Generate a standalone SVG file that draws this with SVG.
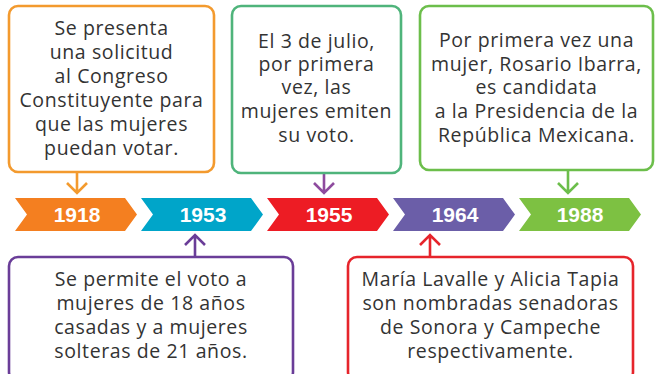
<svg xmlns="http://www.w3.org/2000/svg" width="655" height="374" viewBox="0 0 655 374">
<style>
.box{fill:#fff;stroke-width:2.6}
.t{font-family:"Open Sans","Noto Sans","Liberation Sans",sans-serif;font-size:19.5px;letter-spacing:0.6px;fill:#333;text-anchor:middle}
.yr{font-family:"Liberation Sans",Arial,sans-serif;font-weight:bold;font-size:21px;fill:#fff;text-anchor:middle}
.ar{fill:none;stroke-width:2.6;stroke-linecap:butt;stroke-linejoin:miter}
</style>
<rect width="655" height="374" fill="#fff"/>
<g id="timeline">
<polygon points="15,198 125,198 137,214.5 125,231 15,231 27,214.5" fill="#F47F20"/>
<polygon points="141,198 251,198 263,214.5 251,231 141,231 153,214.5" fill="#00A5C9"/>
<polygon points="267,198 377,198 389,214.5 377,231 267,231 279,214.5" fill="#ED1C24"/>
<polygon points="393,198 503,198 515,214.5 503,231 393,231 405,214.5" fill="#6B5EA8"/>
<polygon points="519,198 629,198 641,214.5 629,231 519,231 531,214.5" fill="#7DC142"/>
<text class="yr" x="77" y="221.5">1918</text>
<text class="yr" x="203" y="221.5">1953</text>
<text class="yr" x="329" y="221.5">1955</text>
<text class="yr" x="455" y="221.5">1964</text>
<text class="yr" x="580" y="221.5">1988</text>
</g>
<g id="connectors">
<path class="ar" stroke="#F39A2E" d="M77,172V193M67,183L77,193L87,183"/>
<path class="ar" stroke="#6A3D98" d="M195,257V235M185,245L195,235L205,245"/>
<path class="ar" stroke="#8E4B9E" d="M324,173V193M314,183L324,193L334,183"/>
<path class="ar" stroke="#E6242B" d="M430,257V235M420,245L430,235L440,245"/>
<path class="ar" stroke="#6CBE4B" d="M568,170V193M558,183L568,193L578,183"/>
</g>
<g id="n1918">
<rect class="box" x="9" y="6" width="205" height="166" rx="9" stroke="#F39A2E"/>
<text class="t"><tspan x="111.5" y="35">Se presenta</tspan><tspan x="111.5" y="59">una solicitud</tspan><tspan x="111.5" y="83">al Congreso</tspan><tspan x="111.5" y="107">Constituyente para</tspan><tspan x="111.5" y="131">que las mujeres</tspan><tspan x="111.5" y="155">puedan votar.</tspan></text>
</g>
<g id="n1955">
<rect class="box" x="232" y="6" width="169" height="167" rx="9" stroke="#4FB47B"/>
<text class="t"><tspan x="316.5" y="48">El 3 de julio,</tspan><tspan x="316.5" y="71">por primera</tspan><tspan x="316.5" y="94">vez, las</tspan><tspan x="316.5" y="118">mujeres emiten</tspan><tspan x="316.5" y="142">su voto.</tspan></text>
</g>
<g id="n1988">
<rect class="box" x="420" y="6" width="233" height="164" rx="9" stroke="#6CBE4B"/>
<text class="t"><tspan x="536.5" y="47">Por primera vez una</tspan><tspan x="536.5" y="71">mujer, Rosario Ibarra,</tspan><tspan x="536.5" y="94">es candidata</tspan><tspan x="536.5" y="118">a la Presidencia de la</tspan><tspan x="536.5" y="142">República Mexicana.</tspan></text>
</g>
<g id="n1953">
<rect class="box" x="9" y="257" width="284" height="124" rx="9" stroke="#6A3D98"/>
<text class="t"><tspan x="151" y="286">Se permite el voto a</tspan><tspan x="151" y="310">mujeres de 18 años</tspan><tspan x="151" y="334">casadas y a mujeres</tspan><tspan x="151" y="358">solteras de 21 años.</tspan></text>
</g>
<g id="n1964">
<rect class="box" x="348" y="257" width="285" height="124" rx="9" stroke="#E6242B"/>
<text class="t"><tspan x="490.5" y="286">María Lavalle y Alicia Tapia</tspan><tspan x="490.5" y="310">son nombradas senadoras</tspan><tspan x="490.5" y="334">de Sonora y Campeche</tspan><tspan x="490.5" y="358">respectivamente.</tspan></text>
</g>
</svg>
